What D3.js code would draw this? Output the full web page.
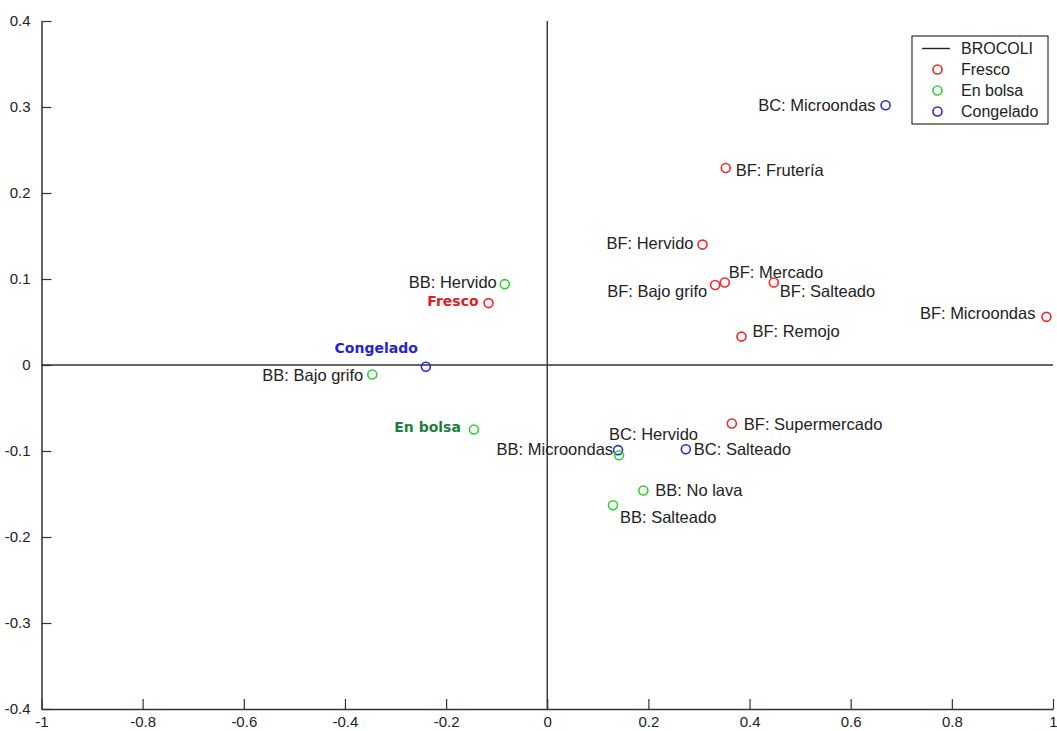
<!DOCTYPE html>
<html>
<head>
<meta charset="utf-8">
<script src="https://cdn.jsdelivr.net/npm/d3@7"></script>
<style>
  html, body { margin: 0; padding: 0; background: #fff; }
  svg { display: block; }
  .tick text { font-family: "Liberation Sans", Arial, sans-serif; font-size: 15px; fill: #222; }
</style>
</head>
<body>
<script>
// Biplot of broccoli samples (Fresco / En bolsa / Congelado)
const groups = ["Fresco", "En bolsa", "Congelado"];

const sampleNames = [
  "BC: Microondas", "BF: Frutería", "BF: Hervido", "BF: Bajo grifo", "BF: Mercado",
  "BF: Salteado", "BF: Microondas", "BF: Remojo", "BF: Supermercado", "BC: Hervido",
  "BB: Microondas", "BC: Salteado", "BB: No lava", "BB: Salteado", "BB: Hervido",
  "BB: Bajo grifo"
];
const sampleGroups = [
  "Congelado", "Fresco", "Fresco", "Fresco", "Fresco",
  "Fresco", "Fresco", "Fresco", "Fresco", "Congelado",
  "En bolsa", "Congelado", "En bolsa", "En bolsa", "En bolsa",
  "En bolsa"
];
const sampleX = [
  0.669, 0.353, 0.307, 0.332, 0.351,
  0.448, 0.987, 0.384, 0.365, 0.140,
  0.142, 0.274, 0.190, 0.130, -0.084,
  -0.346
];
const sampleY = [
  0.302, 0.229, 0.140, 0.093, 0.096,
  0.096, 0.056, 0.033, -0.068, -0.099,
  -0.105, -0.098, -0.146, -0.163, 0.094,
  -0.011
];

// group centroids
const centroidNames = ["Fresco", "Congelado", "En bolsa"];
const centroidX = [-0.116, -0.240, -0.145];
const centroidY = [0.072, -0.002, -0.075];

const xTicks = [-1, -0.8, -0.6, -0.4, -0.2, 0, 0.2, 0.4, 0.6, 0.8, 1];
const yTicks = [-0.4, -0.3, -0.2, -0.1, 0, 0.1, 0.2, 0.3, 0.4];
const legendLabels = ["BROCOLI", "Fresco", "En bolsa", "Congelado"];

// label placement: text-anchor and pixel offsets from each marker
const sampleLabelLayout = [
  ["end", -10, 0], ["start", 10, 2], ["end", -9, -1], ["end", -8, 6], ["start", 4, -10],
  ["start", 6, 9], ["end", -11, -4], ["start", 11, -5], ["start", 12, 1], ["start", -9, -16],
  ["end", -6, -6], ["start", 8, 0], ["start", 12, 0], ["start", 7, 12], ["end", -8, -2],
  ["end", -9, 1]
];
const centroidLabelLayout = [["end", -10, -2], ["end", -8, -19], ["end", -13, -2]];

const markerColor = { "Fresco": "#ee2a2a", "En bolsa": "#30d030", "Congelado": "#2828d8" };
const centroidTextColor = { "Fresco": "#e02020", "Congelado": "#2424d0", "En bolsa": "#1f7d3e" };

const W = 1057, H = 731;
const margin = { left: 41.5, right: 4, top: 21, bottom: 22 };

const svg = d3.select("body").append("svg").attr("width", W).attr("height", H);

const x = d3.scaleLinear().domain([-1, 1]).range([margin.left, W - margin.right]);
const y = d3.scaleLinear().domain([-0.4, 0.4]).range([H - margin.bottom, margin.top]);

const fmt = d => d === 0 ? "0" : String(+d.toFixed(1));
const axisColor = "#333";

// axes with inward ticks
const gx = svg.append("g")
  .attr("transform", `translate(0,${y(-0.4)})`)
  .call(d3.axisBottom(x).tickValues(xTicks).tickFormat(fmt).tickSizeInner(-10).tickSizeOuter(0).tickPadding(7));
const gy = svg.append("g")
  .attr("transform", `translate(${x(-1)},0)`)
  .call(d3.axisLeft(y).tickValues(yTicks).tickFormat(fmt).tickSizeInner(-10).tickSizeOuter(0).tickPadding(11));
[gx, gy].forEach(g => {
  g.select(".domain").attr("stroke", axisColor).attr("stroke-width", 1.5);
  g.selectAll(".tick line").attr("stroke", axisColor).attr("stroke-width", 1.2);
});

// zero lines
svg.append("line")
  .attr("x1", x(-1)).attr("x2", x(1)).attr("y1", y(0)).attr("y2", y(0))
  .attr("stroke", axisColor).attr("stroke-width", 1.4);
svg.append("line")
  .attr("x1", x(0)).attr("x2", x(0)).attr("y1", y(-0.4)).attr("y2", y(0.4))
  .attr("stroke", axisColor).attr("stroke-width", 1.4);

const labelFont = "'Liberation Sans', Arial, sans-serif";

// sample markers and labels
const samples = sampleNames.map((name, i) => ({
  name, group: sampleGroups[i], x: sampleX[i], y: sampleY[i], layout: sampleLabelLayout[i]
}));

svg.append("g").selectAll("circle").data(samples).join("circle")
  .attr("cx", d => x(d.x)).attr("cy", d => y(d.y)).attr("r", 4.5)
  .attr("fill", "none").attr("stroke", d => markerColor[d.group]).attr("stroke-width", 1.6);

svg.append("g").selectAll("text").data(samples).join("text")
  .attr("x", d => x(d.x) + d.layout[1])
  .attr("y", d => y(d.y) + d.layout[2])
  .attr("dy", "0.35em")
  .attr("text-anchor", d => d.layout[0])
  .attr("font-family", labelFont).attr("font-size", 16.5).attr("fill", "#222")
  .text(d => d.name);

// centroids
const centroids = centroidNames.map((name, i) => ({
  name, x: centroidX[i], y: centroidY[i], layout: centroidLabelLayout[i]
}));

svg.append("g").selectAll("circle").data(centroids).join("circle")
  .attr("cx", d => x(d.x)).attr("cy", d => y(d.y)).attr("r", 4.5)
  .attr("fill", "none").attr("stroke", d => markerColor[d.name]).attr("stroke-width", 1.6);

svg.append("g").selectAll("text").data(centroids).join("text")
  .attr("x", d => x(d.x) + d.layout[1])
  .attr("y", d => y(d.y) + d.layout[2])
  .attr("dy", "0.35em")
  .attr("text-anchor", d => d.layout[0])
  .attr("font-family", "'DejaVu Sans', Verdana, sans-serif").attr("font-weight", "bold")
  .attr("font-size", 14).attr("fill", d => centroidTextColor[d.name])
  .text(d => d.name);

// legend
const lg = svg.append("g").attr("transform", "translate(912,36)");
lg.append("rect").attr("width", 136).attr("height", 88)
  .attr("fill", "#fff").attr("stroke", "#333").attr("stroke-width", 1.2);
legendLabels.forEach((label, i) => {
  const cy = 12.5 + i * 21;
  if (i === 0) {
    lg.append("line").attr("x1", 10).attr("x2", 38).attr("y1", cy).attr("y2", cy)
      .attr("stroke", "#222").attr("stroke-width", 1.4);
  } else {
    lg.append("circle").attr("cx", 25.5).attr("cy", cy).attr("r", 4.5)
      .attr("fill", "none").attr("stroke", markerColor[label]).attr("stroke-width", 1.6);
  }
  lg.append("text").attr("x", 49).attr("y", cy).attr("dy", "0.35em")
    .attr("font-family", labelFont).attr("font-size", 16).attr("fill", "#222")
    .text(label);
});
</script>
</body>
</html>
